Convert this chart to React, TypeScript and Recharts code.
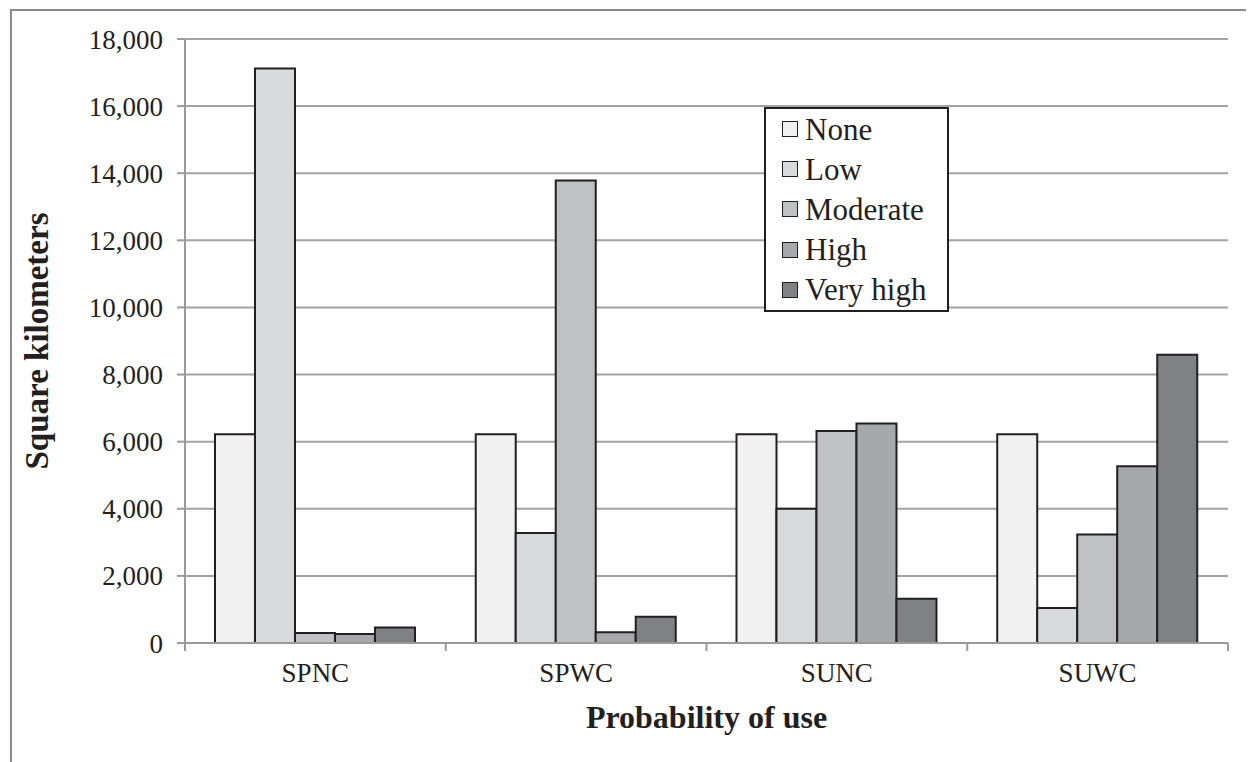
import { Bar, BarChart, CartesianGrid, Legend, XAxis, YAxis } from "recharts";

const FONT = '"Liberation Serif", "Times New Roman", serif';
const AXIS_COLOR = "#9a9a9a";
const GRID_COLOR = "#a3a3a3";
const INK = "#231f20";

const categories = ["SPNC", "SPWC", "SUNC", "SUWC"];
const none = [6220, 6220, 6220, 6220];
const low = [17120, 3280, 4000, 1040];
const moderate = [300, 13780, 6320, 3230];
const high = [270, 320, 6540, 5270];
const veryHigh = [460, 780, 1320, 8590];
const yTicks = [0, 2000, 4000, 6000, 8000, 10000, 12000, 14000, 16000, 18000];

const series = [
  { key: "none", name: "None", color: "#f1f1f1" },
  { key: "low", name: "Low", color: "#d9dadc" },
  { key: "moderate", name: "Moderate", color: "#c0c1c3" },
  { key: "high", name: "High", color: "#a7a8ab" },
  { key: "veryHigh", name: "Very high", color: "#808184" },
];

const data = categories.map((name, i) => ({
  name,
  none: none[i],
  low: low[i],
  moderate: moderate[i],
  high: high[i],
  veryHigh: veryHigh[i],
}));

// plot is 1043px wide, so each category band is a quarter of it
const BAND = 1043 / categories.length;

// Excel-style: tick marks sit on the category boundaries, label in the middle
function CategoryTick(props: any) {
  const { x, y, payload, index } = props;
  const left = x - BAND / 2;
  return (
    <g>
      <line x1={left} x2={left} y1={y - 13} y2={y - 5} stroke={AXIS_COLOR} strokeWidth={2} />
      {index === categories.length - 1 && (
        <line x1={x + BAND / 2} x2={x + BAND / 2} y1={y - 13} y2={y - 5} stroke={AXIS_COLOR} strokeWidth={2} />
      )}
      <text x={x} y={y + 26} textAnchor="middle" fontFamily={FONT} fontSize={27} fill={INK}>
        {payload.value}
      </text>
    </g>
  );
}

function LegendBox() {
  return (
    <div
      style={{
        width: 185,
        height: 205,
        boxSizing: "border-box",
        border: `2px solid ${INK}`,
        background: "#fff",
        fontFamily: FONT,
      }}
    >
      {series.map((s) => (
        <div key={s.key} style={{ height: 40.2, display: "flex", alignItems: "center", paddingLeft: 16 }}>
          <span
            style={{
              width: 16,
              height: 16,
              boxSizing: "border-box",
              border: `1.5px solid ${INK}`,
              background: s.color,
              marginRight: 7,
              flexShrink: 0,
            }}
          />
          <span style={{ fontSize: 31, color: INK, lineHeight: 1 }}>{s.name}</span>
        </div>
      ))}
    </div>
  );
}

export default function App() {
  return (
    <div style={{ position: "relative", width: 1246, height: 754, overflow: "hidden", fontFamily: FONT }}>
      <div
        style={{
          position: "absolute",
          left: 2,
          top: 1,
          width: 1300,
          height: 800,
          border: "2px solid #8c8c8c",
        }}
      />
      <BarChart
        width={1246}
        height={754}
        data={data}
        margin={{ top: 31, right: 26, left: 0, bottom: 0 }}
        barCategoryGap="11.5%"
        barGap={0}
        style={{ position: "absolute", left: 0, top: 0 }}
      >
        <CartesianGrid vertical={false} stroke={GRID_COLOR} strokeWidth={2} />
        <XAxis
          dataKey="name"
          height={119}
          stroke={AXIS_COLOR}
          strokeWidth={2}
          tickLine={false}
          tickSize={8}
          tickMargin={5}
          tick={<CategoryTick />}
          label={{
            content: () => (
              <text
                x={698.5}
                y={720}
                textAnchor="middle"
                fontFamily={FONT}
                fontSize={32}
                fontWeight="bold"
                fill={INK}
              >
                Probability of use
              </text>
            ),
          }}
        />
        <YAxis
          width={177}
          domain={[0, 18000]}
          ticks={yTicks}
          interval={0}
          stroke={AXIS_COLOR}
          strokeWidth={2}
          tickSize={8}
          tickMargin={14}
          tickFormatter={(v: number) => v.toLocaleString("en-US")}
          tick={{ fill: INK, fontSize: 27, fontFamily: FONT }}
          label={{
            content: () => (
              <text
                x={40}
                y={333}
                textAnchor="middle"
                fontFamily={FONT}
                fontSize={33}
                fontWeight="bold"
                fill={INK}
                transform="rotate(-90 40 333)"
              >
                Square kilometers
              </text>
            ),
          }}
        />
        <Legend
          layout="vertical"
          align="center"
          verticalAlign="middle"
          content={() => <LegendBox />}
          wrapperStyle={{ left: 756, top: 99, width: 185, height: 205 }}
        />
        {series.map((s) => (
          <Bar
            key={s.key}
            dataKey={s.key}
            name={s.name}
            fill={s.color}
            stroke={INK}
            strokeWidth={2}
            isAnimationActive={false}
          />
        ))}
      </BarChart>
    </div>
  );
}
